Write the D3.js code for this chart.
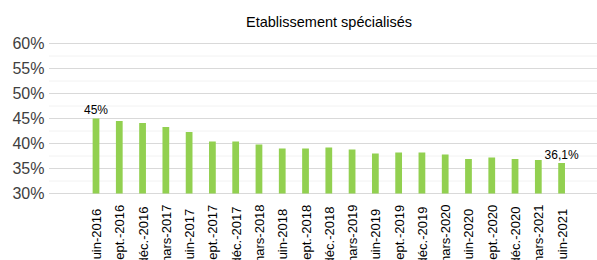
<!DOCTYPE html>
<meta charset="utf-8">
<style>
body { margin: 0; background: #fff; }
svg { display: block; font-family: "Liberation Sans", Arial, sans-serif; }
.bar { fill: #92d050; }
.grid-major { stroke: #d9d9d9; stroke-width: 1px; }
.grid-minor { stroke: #f2f2f2; stroke-width: 1px; }
.ylab { fill: #404040; font-size: 16px; }
.xlab { fill: #000; font-size: 13px; }
.vlab { fill: #000; font-size: 12px; }
</style>
<svg></svg>
<script src="https://cdn.jsdelivr.net/npm/d3@7/dist/d3.min.js"></script>
<script>

var title = 'Etablissement spécialisés'

var periods = ['juin-2016', 'sept.-2016', 'déc.-2016', 'mars-2017',
               'juin-2017', 'sept.-2017', 'déc.-2017', 'mars-2018',
               'juin-2018', 'sept.-2018', 'déc.-2018', 'mars-2019',
               'juin-2019', 'sept.-2019', 'déc.-2019', 'mars-2020',
               'juin-2020', 'sept.-2020', 'déc.-2020', 'mars-2021',
               'juin-2021']

var share = [45.0, 44.5, 44.1, 43.3, 42.3, 40.4, 40.4, 39.8, 39.0, 39.0,
             39.2, 38.8, 38.0, 38.2, 38.2, 37.8, 36.9, 37.2, 36.9, 36.7, 36.1]

// only first and last bar carry a value label
var labelled = [0, 20]

var yTicks = [30, 35, 40, 45, 50, 55, 60]
var yMinor = [32.5, 37.5, 42.5, 47.5, 52.5, 57.5]

var width = 597,
    height = 260

var svg = d3.select('svg')
            .attr('width', width)
            .attr('height', height)

var fr = d3.formatLocale({decimal: ',', thousands: ' ', grouping: [3], currency: ['', ' €']})
var fmt = fr.format('~')

var x = d3.scaleBand()
          .domain(periods)
          .range([84.36, 573.24])
          .paddingInner(0.71)
          .paddingOuter(0.355)

var y = d3.scaleLinear()
          .domain([30, 60])
          .range([193.5, 43.5])

var gridLeft = 49, gridRight = 597

svg.append('g').selectAll('line')
    .data(yMinor)
    .enter().append('line')
    .attr('class', 'grid-minor')
    .attr('x1', gridLeft).attr('x2', gridRight)
    .attr('y1', d => y(d)).attr('y2', d => y(d))

svg.append('g').selectAll('line')
    .data(yTicks)
    .enter().append('line')
    .attr('class', 'grid-major')
    .attr('x1', gridLeft).attr('x2', gridRight)
    .attr('y1', d => y(d)).attr('y2', d => y(d))

// y labels via axis, no line / ticks
var gY = svg.append('g')
            .attr('transform', 'translate(44.5,0)')
            .call(d3.axisLeft(y).tickValues(yTicks).tickSize(0).tickPadding(0)
                    .tickFormat(d => d + '%'))
gY.select('.domain').remove()
gY.selectAll('text').attr('class', 'ylab').attr('font-size', null).attr('font-family', null)

svg.append('g').selectAll('rect')
    .data(share)
    .enter().append('rect')
    .attr('class', 'bar')
    .attr('x', (d, i) => x(periods[i]))
    .attr('width', x.bandwidth())
    .attr('y', d => y(d))
    .attr('height', d => y(30) - y(d))

svg.append('g').selectAll('text')
    .data(labelled)
    .enter().append('text')
    .attr('class', 'vlab')
    .attr('text-anchor', 'middle')
    .attr('x', i => x(periods[i]) + x.bandwidth() / 2)
    .attr('y', i => y(share[i]) - 4.5)
    .text(i => fmt(share[i]) + '%')

// category labels are centred on a line below the picture edge, like the source
var gX = svg.append('g')
            .attr('transform', 'translate(0,' + y(30) + ')')
            .call(d3.axisBottom(x).tickSize(0))
gX.select('.domain').remove()
gX.selectAll('text')
    .attr('class', 'xlab')
    .attr('font-size', null).attr('font-family', null)
    .attr('text-anchor', 'middle')
    .attr('dy', null)
    .attr('y', 0)
    .attr('transform', 'translate(5,42) rotate(-90)')

svg.append('text')
    .attr('x', 329)
    .attr('y', 26.5)
    .attr('text-anchor', 'middle')
    .attr('font-size', '14.5px')
    .attr('fill', '#000')
    .text(title)

</script>
